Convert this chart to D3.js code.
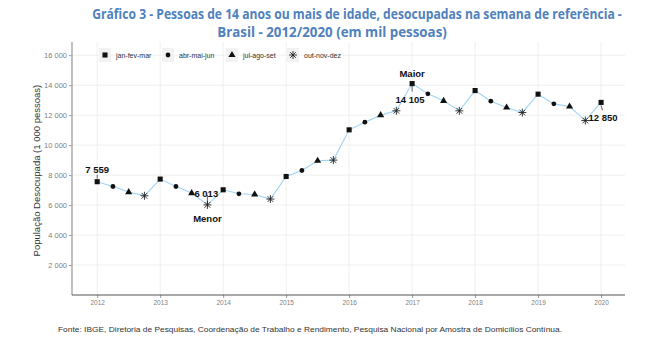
<!DOCTYPE html>
<html>
<head>
<meta charset="utf-8">
<script src="https://cdn.jsdelivr.net/npm/d3@7"></script>
<style>
  body { margin: 0; background: #fff; }
  svg { display: block; }
</style>
</head>
<body>
<svg id="chart" width="650" height="349"></svg>
<script>
// quarterly values (mil pessoas)
const years = [2012, 2013, 2014, 2015, 2016, 2017, 2018, 2019, 2020];
const quarters = ["jan-fev-mar", "abr-mai-jun", "jul-ago-set", "out-nov-dez"];
const values = [
  7559, 7240, 6867, 6620,
  7733, 7240, 6800, 6013,
  7020, 6753, 6707, 6400,
  7907, 8307, 8953, 9000,
  11020, 11530, 12000, 12290,
  14105, 13420, 12953, 12287,
  13640, 12933, 12507, 12173,
  13400, 12753, 12573, 11640,
  12850
];
const yTicks = [2000, 4000, 6000, 8000, 10000, 12000, 14000, 16000];

let data = values.map((v, i) => ({
  t: years[0] + Math.floor(i / 4) + (i % 4) / 4,
  q: i % 4,
  v: v
}));

let margin = {top: 42, right: 25, bottom: 54, left: 72},
    width = 650 - margin.left - margin.right,
    height = 349 - margin.top - margin.bottom;

let svg = d3.select("#chart");

// title (squeezed horizontally to imitate a condensed face)
function titleLine(txt, cx, y, w) {
  let t = svg.append("text")
    .attr("fill", "#4f81bd")
    .attr("font-family", "'Open Sans', sans-serif")
    .attr("font-weight", "bold")
    .attr("font-size", 14)
    .attr("text-anchor", "middle")
    .text(txt);
  let k = w / t.node().getComputedTextLength();
  t.attr("transform", "translate(" + cx + "," + y + ") scale(" + k + ",1)");
}
titleLine("Gráfico 3 - Pessoas de 14 anos ou mais de idade, desocupadas na semana de referência -", 357, 18.5, 530);
titleLine("Brasil - 2012/2020 (em mil pessoas)", 332, 36.5, 230);

let g = svg.append("g").attr("transform", "translate(" + margin.left + "," + margin.top + ")");

let xScale = d3.scaleLinear().domain([2011.6, 2020.38]).range([0, width]);
let yScale = d3.scaleLinear().domain([0, 16880]).range([height, 0]);

//grid
g.append("g").selectAll("line").data(yTicks).join("line")
  .attr("x1", 0).attr("x2", width)
  .attr("y1", d => yScale(d)).attr("y2", d => yScale(d))
  .attr("stroke", "#ebebeb").attr("stroke-width", 0.8);
g.append("g").selectAll("line").data(years).join("line")
  .attr("x1", d => xScale(d)).attr("x2", d => xScale(d))
  .attr("y1", 0).attr("y2", height)
  .attr("stroke", "#ebebeb").attr("stroke-width", 0.8);

// axes
let yAxis = g.append("g")
  .call(d3.axisLeft(yScale).tickValues(yTicks).tickSize(3).tickPadding(2)
    .tickFormat(d => d3.format(",")(d).replace(",", " ")));
yAxis.select(".domain").remove();
yAxis.selectAll(".tick line").attr("stroke", "#999");
yAxis.selectAll("text").attr("fill", "#7f7f7f")
  .attr("font-family", "'Liberation Sans', Arial, sans-serif").attr("font-size", 7.5);
g.append("line").attr("x1", 0).attr("x2", 0).attr("y1", 0).attr("y2", height)
  .attr("stroke", "#b0b0b0").attr("stroke-width", 1.6);

let xAxis = g.append("g").attr("transform", "translate(0," + height + ")")
  .call(d3.axisBottom(xScale).tickValues(years).tickSize(3).tickPadding(2).tickFormat(d3.format("d")));
xAxis.select(".domain").remove();
xAxis.selectAll(".tick line").attr("stroke", "#999");
xAxis.selectAll("text").attr("fill", "#7f7f7f")
  .attr("font-family", "'Liberation Sans', Arial, sans-serif").attr("font-size", 6.5);
g.append("line").attr("x1", 0).attr("x2", width).attr("y1", height).attr("y2", height)
  .attr("stroke", "#555").attr("stroke-width", 1.2);

// y label
svg.append("text")
  .attr("transform", "translate(40," + (margin.top + yScale(8300)) + ") rotate(-90)")
  .attr("text-anchor", "middle")
  .attr("fill", "#333")
  .attr("font-family", "'Liberation Sans', Arial, sans-serif")
  .attr("font-size", 9.5)
  .text("População Desocupada (1 000 pessoas)");

// line
let lineGraph = d3.line().x(d => xScale(d.t)).y(d => yScale(d.v));
g.append("path").datum(data)
  .attr("d", lineGraph)
  .attr("fill", "none")
  .attr("stroke", "#9fd3f5")
  .attr("stroke-width", 1.1);

// point shapes
const shapes = [
  d3.symbol().type(d3.symbolSquare).size(26),
  d3.symbol().type(d3.symbolCircle).size(18),
  d3.symbol().type(d3.symbolTriangle).size(22),
  null
];
function asterisk(r) {
  let a = r * 0.707;
  return "M" + (-r) + ",0L" + r + ",0M0," + (-r) + "L0," + r +
    "M" + (-a) + "," + (-a) + "L" + a + "," + a + "M" + (-a) + "," + a + "L" + a + "," + (-a);
}
function drawShape(sel, q) {
  if (q === 3) {
    sel.append("path").attr("d", asterisk(4)).attr("stroke", "#222").attr("stroke-width", 0.9).attr("fill", "none");
  } else {
    sel.append("path").attr("d", shapes[q]()).attr("fill", "#111");
  }
}

g.append("g").selectAll("g").data(data).join("g")
  .attr("transform", d => "translate(" + xScale(d.t) + "," + yScale(d.v) + ")")
  .each(function(d) { drawShape(d3.select(this), d.q); });

// annotations
let fmt = v => d3.format(",")(v).replace(",", " ");
let first = data[0], last = data[data.length - 1];
let minP = data.reduce((a, b) => b.v < a.v ? b : a);
let maxP = data.reduce((a, b) => b.v > a.v ? b : a);
let ann = g.append("g")
  .attr("font-family", "'Liberation Sans', Arial, sans-serif")
  .attr("font-weight", "bold").attr("font-size", 9.5).attr("fill", "#111");
let seg = (x1, y1, x2, y2) => ann.append("line")
  .attr("x1", x1).attr("y1", y1).attr("x2", x2).attr("y2", y2)
  .attr("stroke", "#222").attr("stroke-width", 0.7);

// first value
seg(xScale(first.t), yScale(first.v) - 3, xScale(first.t), yScale(first.v) - 7);
ann.append("text").attr("x", xScale(first.t)).attr("y", yScale(first.v) - 9)
  .attr("text-anchor", "middle").text(fmt(first.v));
// min
seg(xScale(minP.t), yScale(minP.v), xScale(minP.t), yScale(minP.v) - 10);
ann.append("text").attr("x", xScale(minP.t) - 13).attr("y", yScale(minP.v) - 8)
  .text(fmt(minP.v));
ann.append("text").attr("x", xScale(minP.t)).attr("y", yScale(minP.v) + 17)
  .attr("text-anchor", "middle").text("Menor");
// max
seg(xScale(maxP.t), yScale(maxP.v), xScale(maxP.t), yScale(maxP.v) + 8);
ann.append("text").attr("x", xScale(maxP.t) - 2).attr("y", yScale(maxP.v) + 19)
  .attr("text-anchor", "middle").text(fmt(maxP.v));
ann.append("text").attr("x", xScale(maxP.t)).attr("y", yScale(maxP.v) - 7)
  .attr("text-anchor", "middle").text("Maior");
// last
seg(xScale(last.t), yScale(last.v) + 3, xScale(last.t) + 1.5, yScale(last.v) + 8);
ann.append("text").attr("x", xScale(last.t) + 2).attr("y", yScale(last.v) + 19)
  .attr("text-anchor", "middle").text(fmt(last.v));

// legend
let legendX = [105, 168, 232, 293];
let legend = svg.append("g").selectAll("g").data(quarters).join("g")
  .attr("transform", (d, i) => "translate(" + legendX[i] + ",55)");
legend.append("rect").attr("x", -6).attr("y", -7).attr("width", 12).attr("height", 14)
  .attr("fill", "#f2f2f2");
legend.each(function(d, i) { drawShape(d3.select(this), i); });
legend.append("text").attr("x", 11).attr("y", 2.5)
  .attr("fill", "#333")
  .attr("font-family", "'Liberation Sans', Arial, sans-serif")
  .attr("font-size", 7)
  .text(d => d);

// source
svg.append("text").attr("x", 58).attr("y", 332)
  .attr("fill", "#333")
  .attr("font-family", "'Liberation Sans', Arial, sans-serif")
  .attr("font-size", 8)
  .attr("textLength", 504).attr("lengthAdjust", "spacingAndGlyphs")
  .text("Fonte: IBGE, Diretoria de Pesquisas, Coordenação de Trabalho e Rendimento, Pesquisa Nacional por Amostra de Domicílios Contínua.");
</script>
</body>
</html>
